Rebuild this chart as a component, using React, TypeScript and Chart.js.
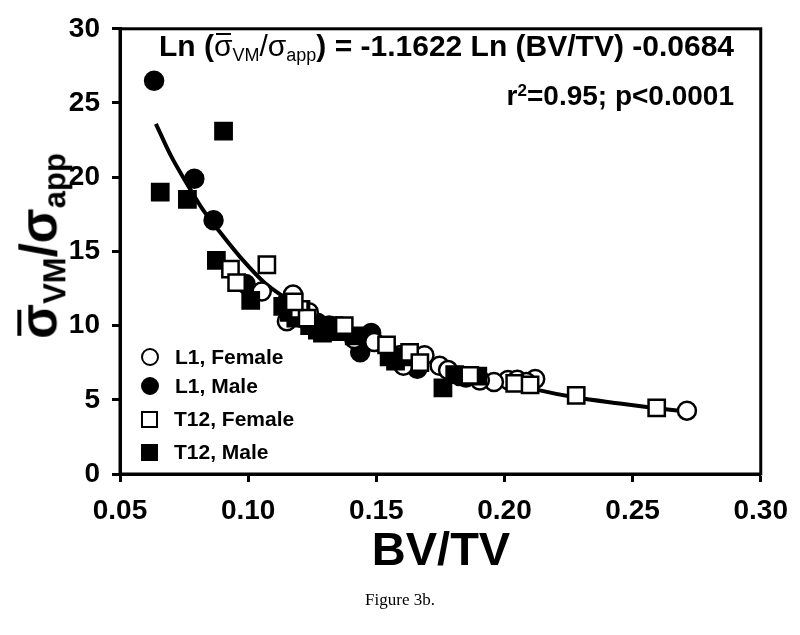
import React, { useEffect, useRef } from "react";
import { Chart, registerables } from "chart.js";

Chart.register(...registerables);

// L1, Female (open circles)
const l1FemaleX = [0.2712, 0.212, 0.2014, 0.1959, 0.1825, 0.1747, 0.1688, 0.1637, 0.159, 0.1606, 0.1175, 0.1155, 0.1151, 0.1053, 0.1237, 0.1492, 0.1904, 0.178, 0.1414, 0.205, 0.2085];
const l1FemaleY = [4.27, 6.4, 6.33, 6.2, 6.6, 7.3, 8.0, 7.7, 8.0, 7.3, 12.1, 11.3, 10.3, 12.3, 10.9, 8.9, 6.3, 7.0, 9.1, 6.35, 6.2];
// L1, Male (filled circles)
const l1MaleX = [0.0633, 0.079, 0.0865, 0.099, 0.1147, 0.12, 0.1316, 0.148, 0.1437, 0.147, 0.164, 0.166, 0.185, 0.19, 0.1225, 0.118, 0.127];
const l1MaleY = [26.5, 19.9, 17.1, 12.8, 11.5, 10.7, 10.0, 9.5, 8.2, 9.3, 7.7, 7.1, 6.5, 6.45, 10.4, 11.0, 10.2];
// T12, Female (open squares)
const t12FemaleX = [0.0931, 0.0955, 0.1073, 0.1375, 0.154, 0.163, 0.228, 0.2594, 0.204, 0.21, 0.1865, 0.167, 0.12, 0.123, 0.118];
const t12FemaleY = [13.8, 12.9, 14.1, 10.0, 8.7, 8.2, 5.3, 4.45, 6.1, 6.0, 6.65, 7.5, 11.1, 10.5, 11.6];
// T12, Male (filled squares)
const t12MaleX = [0.0657, 0.0763, 0.0904, 0.0876, 0.101, 0.1135, 0.1186, 0.127, 0.1335, 0.1414, 0.155, 0.176, 0.1806, 0.1896, 0.1206, 0.124, 0.116, 0.129, 0.135, 0.1575, 0.16];
const t12MaleY = [19.0, 18.5, 23.1, 14.4, 11.7, 11.3, 10.5, 9.7, 10.0, 9.3, 7.9, 5.8, 6.7, 6.6, 11.1, 10.0, 10.9, 9.5, 9.6, 7.6, 7.9];
// Regression curve
const fitX = [0.064, 0.07, 0.076, 0.082, 0.089, 0.097, 0.107, 0.12, 0.135, 0.15, 0.17, 0.19, 0.212, 0.228, 0.245, 0.26, 0.271];
const fitY = [23.6, 21.4, 19.6, 17.9, 16.3, 14.6, 12.8, 11.3, 10.0, 8.9, 7.7, 6.7, 5.7, 5.15, 4.75, 4.42, 4.2];

const xTicks = [0.05, 0.1, 0.15, 0.2, 0.25, 0.3];
const yTicks = [0, 5, 10, 15, 20, 25, 30];

const FONT = "'Liberation Sans', Arial, Helvetica, sans-serif";

const zip = (xs: number[], ys: number[]) => xs.map((x, i) => ({ x, y: ys[i] }));

const framePlugin = {
  id: "frame",
  afterDraw(chart: any) {
    const { ctx, chartArea } = chart;
    ctx.save();
    ctx.strokeStyle = "#000";
    ctx.lineWidth = 3;
    ctx.strokeRect(chartArea.left, chartArea.top, chartArea.right - chartArea.left, chartArea.bottom - chartArea.top);
    ctx.restore();
  },
};

function Sigma({ bar, size }: { bar: boolean; size: number }) {
  return (
    <span style={{ position: "relative", display: "inline-block" }}>
      σ
      {bar && (
        <span
          style={{
            position: "absolute",
            left: "0.06em",
            width: "0.5em",
            top: "0.08em",
            height: Math.max(2, Math.round(size * 0.07)),
            background: "#000",
          }}
        />
      )}
    </span>
  );
}

export default function App() {
  const ref = useRef<HTMLCanvasElement | null>(null);
  useEffect(() => {
    if (!ref.current) return;
    const marker = (style: string, fill: string, radius: number) => ({
      pointStyle: style,
      pointRadius: radius,
      pointHoverRadius: radius,
      pointBackgroundColor: fill,
      pointBorderColor: "#000",
      pointBorderWidth: 2.5,
      backgroundColor: fill,
      borderColor: "#000",
      showLine: false,
      order: 1,
    });
    const chart = new Chart(ref.current, {
      type: "scatter",
      data: {
        datasets: [
          { label: "T12, Female", data: zip(t12FemaleX, t12FemaleY), ...marker("rect", "#fff", 11.5) },
          { label: "T12, Male", data: zip(t12MaleX, t12MaleY), ...marker("rect", "#000", 11.5) },
          { label: "L1, Female", data: zip(l1FemaleX, l1FemaleY), ...marker("circle", "#fff", 9) },
          { label: "L1, Male", data: zip(l1MaleX, l1MaleY), ...marker("circle", "#000", 9) },
          {
            type: "line" as any,
            label: "fit",
            data: zip(fitX, fitY),
            showLine: true,
            borderColor: "#000",
            borderWidth: 4,
            pointRadius: 0,
            tension: 0.4,
            cubicInterpolationMode: "monotone",
            fill: false,
            order: 5,
          } as any,
        ],
      },
      options: {
        animation: false,
        responsive: false,
        maintainAspectRatio: false,
        layout: { padding: { left: 0, top: 25, right: 39, bottom: 0 } },
        plugins: { legend: { display: false }, tooltip: { enabled: false } },
        scales: {
          x: {
            type: "linear",
            min: 0.05,
            max: 0.3,
            afterFit: (s: any) => { s.height = 161; },
            afterBuildTicks: (s: any) => { s.ticks = xTicks.map((v) => ({ value: v })); },
            ticks: {
              color: "#000",
              font: { family: FONT, size: 28, weight: "bold" },
              padding: 12,
              maxRotation: 0,
              callback: (v: any) => Number(v).toFixed(2),
            },
            grid: { drawOnChartArea: false, drawTicks: true, tickLength: 8, tickWidth: 3, tickColor: "#000" },
            border: { display: true, color: "#000", width: 3 },
          },
          y: {
            type: "linear",
            min: 0,
            max: 30,
            afterFit: (s: any) => { s.width = 120; },
            afterBuildTicks: (s: any) => { s.ticks = yTicks.map((v) => ({ value: v })); },
            ticks: {
              color: "#000",
              font: { family: FONT, size: 28, weight: "bold" },
              padding: 12,
            },
            grid: { drawOnChartArea: false, drawTicks: true, tickLength: 8, tickWidth: 3, tickColor: "#000" },
            border: { display: true, color: "#000", width: 3 },
          },
        },
      },
      plugins: [framePlugin],
    } as any);
    return () => chart.destroy();
  }, []);

  const legendRows = [
    { label: "L1, Female", shape: "circle", fill: "#fff", y: 357 },
    { label: "L1, Male", shape: "circle", fill: "#000", y: 386 },
    { label: "T12, Female", shape: "square", fill: "#fff", y: 419 },
    { label: "T12, Male", shape: "square", fill: "#000", y: 452 },
  ];

  return (
    <div style={{ position: "absolute", left: 0, top: 0, width: 800, height: 635, background: "#fff", fontFamily: FONT }}>
      <canvas ref={ref} width={800} height={635} style={{ position: "absolute", left: 0, top: 0, width: 800, height: 635 }} />
      {/* y axis title */}
      <div
        style={{
          position: "absolute",
          left: 42,
          top: 246,
          transform: "translate(-50%, -50%) rotate(-90deg)",
          whiteSpace: "nowrap",
          fontSize: 51,
          fontWeight: "bold",
          lineHeight: 1,
          color: "#000",
        }}
      >
        <Sigma bar={true} size={51} />
        <sub style={{ fontSize: 31, verticalAlign: "-0.3em" }}>VM</sub>
        /σ
        <sub style={{ fontSize: 31, verticalAlign: "-0.3em" }}>app</sub>
      </div>
      {/* x axis title */}
      <div style={{ position: "absolute", left: 441, top: 548, transform: "translate(-50%, -50%)", fontSize: 47, fontWeight: "bold", lineHeight: 1, whiteSpace: "nowrap" }}>
        BV/TV
      </div>
      {/* equation */}
      <div style={{ position: "absolute", right: 66, top: 31, fontSize: 30, fontWeight: "bold", lineHeight: 1, whiteSpace: "nowrap" }}>
        Ln (<span style={{ fontWeight: "normal" }}><Sigma bar={true} size={30} /></span>
        <sub style={{ fontSize: 18, fontWeight: "normal", verticalAlign: "-0.3em" }}>VM</sub>
        <span style={{ fontWeight: "normal" }}>/σ</span>
        <sub style={{ fontSize: 18, fontWeight: "normal", verticalAlign: "-0.3em" }}>app</sub>) = -1.1622 Ln (BV/TV) -0.0684
      </div>
      <div style={{ position: "absolute", right: 66, top: 82, fontSize: 28, fontWeight: "bold", lineHeight: 1, whiteSpace: "nowrap" }}>
        r<sup style={{ fontSize: 17, verticalAlign: "0.55em" }}>2</sup>=0.95; p&lt;0.0001
      </div>
      {/* legend */}
      {legendRows.map((r) => (
        <div key={r.label} style={{ position: "absolute", left: 141, top: r.y - 12, height: 24, display: "flex", alignItems: "center" }}>
          <div
            style={{
              width: r.shape === "circle" ? 18 : 17,
              height: r.shape === "circle" ? 18 : 17,
              boxSizing: "border-box",
              border: "2.5px solid #000",
              borderRadius: r.shape === "circle" ? "50%" : 0,
              background: r.fill,
              marginRight: 16,
            }}
          />
          <span style={{ fontSize: 21, fontWeight: "bold", whiteSpace: "nowrap" }}>{r.label}</span>
        </div>
      ))}
      {/* caption */}
      <div style={{ position: "absolute", left: 400, top: 600, transform: "translate(-50%, -50%)", fontFamily: "'Liberation Serif', 'Times New Roman', serif", fontSize: 17, whiteSpace: "nowrap" }}>
        Figure 3b.
      </div>
    </div>
  );
}
